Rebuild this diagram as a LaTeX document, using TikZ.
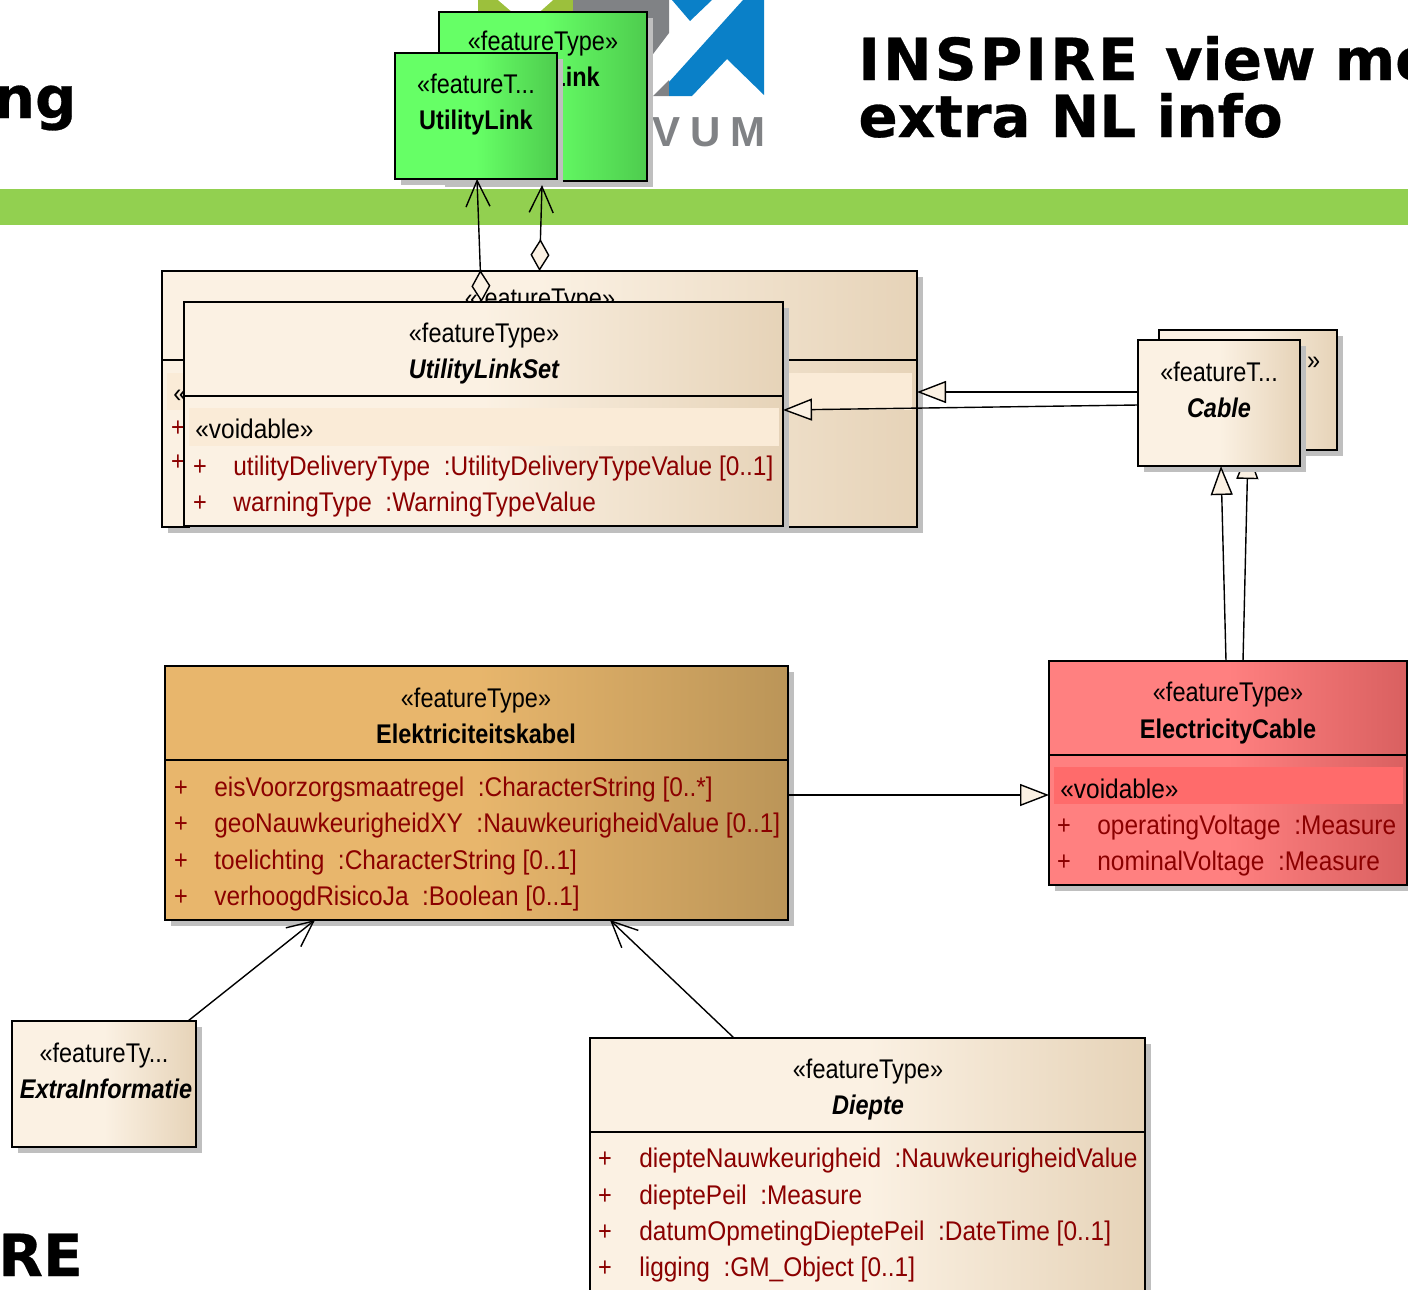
\documentclass[tikz,border=0pt]{standalone}
\usepackage{fontspec}
\setmainfont[FakeStretch=0.87]{Liberation Sans}
\newfontfamily\attrfont[FakeStretch=0.905]{Liberation Sans}
\newfontfamily\titlefont[BoldFeatures={FakeBold=0.5}]{DejaVu Sans}
\newfontfamily\titlewide[LetterSpace=5.5,BoldFeatures={FakeBold=0.5,LetterSpace=5.5}]{DejaVu Sans}
\newfontfamily\logofont[LetterSpace=23,BoldFeatures={LetterSpace=23}]{Liberation Sans}
\usetikzlibrary{arrows.meta,fit}
\definecolor{creamA}{HTML}{FBF1E3}
\definecolor{creamB}{HTML}{E6D3B8}
\definecolor{creamS}{HTML}{FAEBD7}
\definecolor{greenA}{HTML}{66FF66}
\definecolor{greenB}{HTML}{4ECC4E}
\definecolor{goldA}{HTML}{E8B66C}
\definecolor{goldB}{HTML}{BB9558}
\definecolor{redA}{HTML}{FF8080}
\definecolor{redB}{HTML}{D96060}
\definecolor{redS}{HTML}{FF6B6B}
\definecolor{shadowc}{HTML}{BFBFBF}
\definecolor{attrc}{HTML}{8B0000}
\definecolor{barc}{HTML}{92D050}
\definecolor{logogreen}{HTML}{9CC03C}
\definecolor{logogray}{HTML}{808285}
\definecolor{logoblue}{HTML}{0A80C8}
\pgfdeclarehorizontalshading{creamsh}{100bp}{color(0bp)=(creamA);color(25bp)=(creamA);color(50bp)=(creamA);color(75bp)=(creamB);color(100bp)=(creamB)}
\pgfdeclarehorizontalshading{greensh}{100bp}{color(0bp)=(greenA);color(25bp)=(greenA);color(50bp)=(greenA);color(75bp)=(greenB);color(100bp)=(greenB)}
\pgfdeclarehorizontalshading{goldsh}{100bp}{color(0bp)=(goldA);color(25bp)=(goldA);color(50bp)=(goldA);color(75bp)=(goldB);color(100bp)=(goldB)}
\pgfdeclarehorizontalshading{redsh}{100bp}{color(0bp)=(redA);color(25bp)=(redA);color(50bp)=(redA);color(75bp)=(redB);color(100bp)=(redB)}
\tikzset{
  umlframe/.style={draw=black,line width=1pt,inner sep=0pt,outer sep=0pt,shade},
  divider/.style={draw=black,line width=.75pt},
  stereo/.style={anchor=base,font=\fontsize{13.5}{16}\selectfont,inner sep=0pt,text=black},
  leftstereo/.style={stereo,anchor=base west,font=\attrfont\fontsize{13.5}{16}\selectfont},
  boldname/.style={stereo,font=\fontsize{13.5}{16}\selectfont\bfseries},
  italname/.style={stereo,font=\fontsize{13.5}{16}\selectfont\bfseries\itshape},
  attr/.style={stereo,anchor=base west,text=attrc,font=\attrfont\fontsize{13.5}{16}\selectfont},
  plus/.style={stereo,text=attrc},
  link/.style={draw=black,line width=.7pt},
  nav/.style={link,-{Straight Barb[length=13pt,width=12pt,line width=.7pt]}},
  real/.style={link,-{Triangle[fill=creamA,length=14.5pt,width=11pt,line width=.7pt]}},
  aggr/.style={link,{Diamond[fill=creamA,length=16pt,width=9.5pt,line width=.7pt]}-{Straight Barb[length=13pt,width=12pt,line width=.7pt]}},
  bigtitle/.style={font=\titlefont\fontsize{29}{29}\selectfont\bfseries,inner sep=0pt,text=black},
}
\newcommand{\umlbox}[6]{%
  \fill[shadowc,shift={(6,6)}] (#2,#3) rectangle (#4,#5);
  \coordinate (#1-a) at (#2,#3);
  \coordinate (#1-b) at (#4,#5);
  \node[umlframe,shading=#6,fit=(#1-a)(#1-b)] (#1) {};
}
\newcommand{\umldiv}[2]{\draw[divider] (#1.west |- 0,#2) -- (#1.east |- 0,#2);}
\newcommand{\umlattr}[6]{%
  \node[plus] (#1-p) at (#2,#4) {+};
  \node[attr] (#1-t) at (#3,#4) {#5\ \ :#6};
}
\begin{document}
\begin{tikzpicture}[x=.5pt,y=-.5pt]
\path[use as bounding box,clip] (0,0) rectangle (1408,1290);
\fill[white] (0,0) rectangle (1408,1290);
% logo
\fill[logogreen] (478,0) rectangle (573,30);
\fill[white] (498,0) -- (553,0) -- (526,24) -- cycle;
\fill[logogray] (573,0) -- (669,0) -- (669,33) -- (647,62) -- (620,30) -- (573,30) -- cycle;
\fill[logogray] (653,96) -- (669,80) -- (669,96) -- cycle;
\fill[logoblue] (672,0) -- (712,0) -- (690,21) -- cycle;
\fill[logoblue] (743,0) -- (764,0) -- (764,95) -- (727,59) -- (692,96) -- (669,96) -- (669,82) -- cycle;
\node[anchor=base west,inner sep=0pt,text=logogray,font=\logofont\fontsize{21}{21}\selectfont\bfseries] (logotext) at (652,146) {VUM};
% slide background
\fill[barc] (0,189) rectangle (1408,225);
\node[bigtitle,anchor=base east] (ttlng) at (77,118) {ng};
\node[bigtitle,anchor=base west] (ttlA) at (858,80) {{\titlewide\bfseries INSPIRE}\hspace{3.5pt} view\hspace{-.5pt} me};
\node[bigtitle,anchor=base west] (ttlB) at (858,137) {extra NL info};
\node[bigtitle,anchor=base east] (ttlre) at (83,1276) {RE};
% green classes
\umlbox{ulinkB}{439}{12}{647}{181}{greensh}
\node[stereo] (ulinkBs) at (543,50) {«featureType»};
\node[boldname] (ulinkBn) at (543,86) {UtilityLink};
\umlbox{ulinkF}{395}{53}{557}{179}{greensh}
\node[stereo] (ulinkFs) at (476,93) {«featureT...};
\node[boldname] (ulinkFn) at (476,129) {UtilityLink};
% back UtilityLinkSet
\umlbox{ulsetB}{162}{271}{917}{527}{creamsh}
\umldiv{ulsetB}{360}
\fill[creamS] (167,373) rectangle (912,410);
\node[stereo] (ulsetBs) at (540,307) {«featureType»};
\node[leftstereo] (ulsetBv) at (173,402) {«voidable»};
\node[plus] (ulsetBp1) at (178,436) {+};
\node[plus] (ulsetBp2) at (178,470) {+};
% front UtilityLinkSet
\umlbox{ulsetF}{184}{302}{783}{526}{creamsh}
\umldiv{ulsetF}{396}
\fill[creamS] (189,408) rectangle (779,446);
\node[stereo] (ulsetFs) at (484,342) {«featureType»};
\node[italname] (ulsetFn) at (484,378) {UtilityLinkSet};
\node[leftstereo] (ulsetFv) at (195,438) {«voidable»};
\umlattr{ua}{200}{233}{475}{utilityDeliveryType}{UtilityDeliveryTypeValue [0..1]}
\umlattr{ub}{200}{233}{511}{warningType}{WarningTypeValue}
% Cable
\umlbox{cableB}{1159}{330}{1337}{450}{creamsh}
\node[stereo] (cableBs) at (1245,369) {«featureType»};
\umlbox{elecC}{1049}{661}{1407}{885}{redsh}
\draw[real] ([xshift=7.5pt]elecC.north) -- (cableB.south);
\umlbox{cableF}{1138}{340}{1300}{466}{creamsh}
\node[stereo] (cableFs) at (1219,381) {«featureT...};
\node[italname] (cableFn) at (1219,417) {Cable};
% ElectricityCable
\umldiv{elecC}{755}
\fill[redS] (1054,767) rectangle (1403,804);
\node[stereo] (elecCs) at (1228,701) {«featureType»};
\node[boldname] (elecCn) at (1228,738) {ElectricityCable};
\node[leftstereo] (elecCv) at (1060,798) {«voidable»};
\umlattr{ea}{1064}{1097}{834}{operatingVoltage}{Measure}
\umlattr{eb}{1064}{1097}{870}{nominalVoltage}{Measure}
% Elektriciteitskabel
\umlbox{elek}{165}{666}{788}{920}{goldsh}
\umldiv{elek}{760}
\node[stereo] (elekS) at (476,707) {«featureType»};
\node[boldname] (elekN) at (476,743) {Elektriciteitskabel};
\umlattr{ka}{181}{214}{796}{eisVoorzorgsmaatregel}{CharacterString [0..*]}
\umlattr{kb}{181}{214}{832}{geoNauwkeurigheidXY}{NauwkeurigheidValue [0..1]}
\umlattr{kc}{181}{214}{869}{toelichting}{CharacterString [0..1]}
\umlattr{kd}{181}{214}{905}{verhoogdRisicoJa}{Boolean [0..1]}
% ExtraInformatie
\umlbox{extra}{12}{1021}{196}{1147}{creamsh}
\node[stereo] (extraS) at (104,1062) {«featureTy...};
\node[italname] (extraN) at (106,1098) {ExtraInformatie};
% Diepte
\umlbox{diepte}{590}{1038}{1145}{1320}{creamsh}
\umldiv{diepte}{1132}
\node[stereo] (diepteS) at (868,1078) {«featureType»};
\node[italname] (diepteN) at (868,1114) {Diepte};
\umlattr{da}{605}{639}{1167}{diepteNauwkeurigheid}{NauwkeurigheidValue}
\umlattr{db}{605}{639}{1204}{dieptePeil}{Measure}
\umlattr{dc}{605}{639}{1240}{datumOpmetingDieptePeil}{DateTime [0..1]}
\umlattr{dd}{605}{639}{1276}{ligging}{GM\_Object [0..1]}
% connectors
\draw[aggr] ([xshift=-1pt]ulsetF.north) -- ([xshift=.5pt]ulinkF.south);
\draw[aggr] (ulsetB.north) -- ([xshift=-.5pt,yshift=-2pt]ulinkB.south);
\draw[real] ([yshift=5.5pt]cableF.west) -- ([yshift=3.5pt]ulsetB.east);
\draw[real] ([yshift=-1pt]cableF.west) -- ([yshift=2pt]ulsetF.east);
\draw[real] ([xshift=-1pt]elecC.north) -- ([xshift=1pt]cableF.south);
\draw[real] ([yshift=-1pt]elek.east) -- ([yshift=-11pt]elecC.west);
\draw[nav] ([xshift=42pt]extra.north) -- ([xshift=-80.75pt]elek.south);
\draw[nav] ([xshift=-66.75pt]diepte.north) -- ([xshift=66.75pt]elek.south);
\end{tikzpicture}
\end{document}
